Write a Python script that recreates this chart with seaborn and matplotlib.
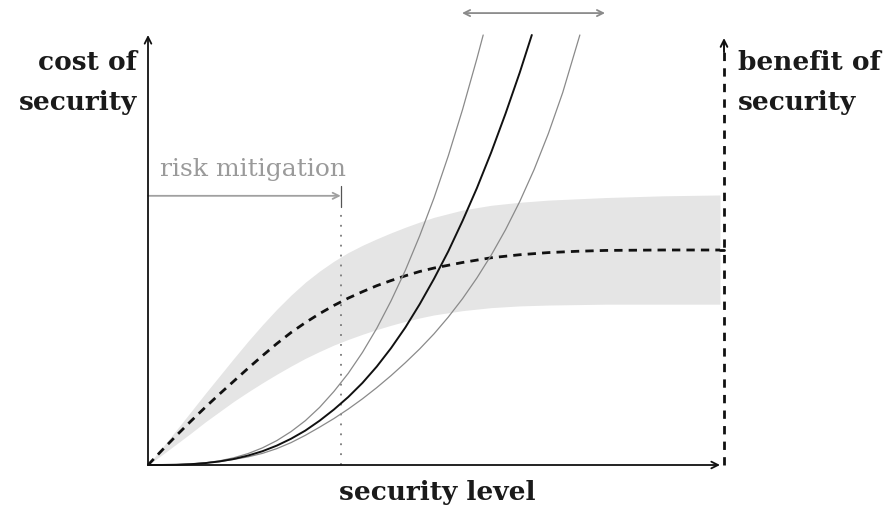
import matplotlib
matplotlib.use("Agg")
import matplotlib.pyplot as plt
import seaborn as sns
import pandas as pd

# --- data (security level on [0, 1], cost / benefit on [0, 1]) ---
benefit_level = [0, 0.025, 0.05, 0.075, 0.1, 0.125, 0.15, 0.175, 0.2, 0.225,
                 0.25, 0.275, 0.3, 0.325, 0.35, 0.375, 0.4, 0.425, 0.45,
                 0.475, 0.5, 0.55, 0.6, 0.65, 0.7, 0.75, 0.8, 0.9, 1.0]
benefit_mean = [0, 0.035, 0.069, 0.102, 0.134, 0.165, 0.195, 0.225, 0.254,
                0.282, 0.308, 0.331, 0.352, 0.371, 0.388, 0.403, 0.417,
                0.429, 0.440, 0.450, 0.458, 0.471, 0.482, 0.489, 0.494,
                0.497, 0.499, 0.500, 0.500]
benefit_high = [0, 0.041, 0.082, 0.124, 0.166, 0.207, 0.248, 0.288, 0.326,
                0.362, 0.395, 0.425, 0.451, 0.474, 0.494, 0.511, 0.526,
                0.540, 0.553, 0.565, 0.576, 0.593, 0.604, 0.611, 0.616,
                0.619, 0.622, 0.626, 0.628]
benefit_low = [0, 0.024, 0.049, 0.074, 0.100, 0.124, 0.148, 0.170, 0.191,
               0.211, 0.230, 0.248, 0.264, 0.279, 0.292, 0.304, 0.315,
               0.325, 0.334, 0.342, 0.349, 0.359, 0.366, 0.370, 0.372,
               0.373, 0.374, 0.374, 0.374]

cost_mid_level = [0, 0.025, 0.05, 0.075, 0.1, 0.125, 0.15, 0.175, 0.2, 0.225,
                  0.25, 0.275, 0.3, 0.325, 0.35, 0.375, 0.4, 0.425, 0.45,
                  0.475, 0.5, 0.525, 0.55, 0.575, 0.6, 0.625, 0.65, 0.671]
cost_mid = [0, 0.0001, 0.0006, 0.0019, 0.0044, 0.0083, 0.014, 0.022, 0.032,
            0.045, 0.061, 0.080, 0.103, 0.129, 0.158, 0.191, 0.229, 0.272,
            0.320, 0.374, 0.433, 0.497, 0.568, 0.644, 0.727, 0.817, 0.913,
            1.0]

cost_steep_level = [0, 0.025, 0.05, 0.075, 0.1, 0.125, 0.15, 0.175, 0.2,
                    0.225, 0.25, 0.275, 0.3, 0.325, 0.35, 0.375, 0.4, 0.425,
                    0.45, 0.475, 0.5, 0.525, 0.55, 0.575, 0.586]
cost_steep = [0, 0.0001, 0.0006, 0.0021, 0.005, 0.0097, 0.0168, 0.0266,
              0.0398, 0.0566, 0.0776, 0.103, 0.134, 0.171, 0.213, 0.262,
              0.318, 0.382, 0.453, 0.533, 0.621, 0.719, 0.827, 0.945, 1.0]

cost_flat_level = [0, 0.025, 0.05, 0.075, 0.1, 0.125, 0.15, 0.175, 0.2,
                   0.225, 0.25, 0.275, 0.3, 0.325, 0.35, 0.375, 0.4, 0.425,
                   0.45, 0.475, 0.5, 0.525, 0.55, 0.575, 0.6, 0.625, 0.65,
                   0.675, 0.7, 0.725, 0.755]
cost_flat = [0, 0.0002, 0.001, 0.0025, 0.005, 0.008, 0.013, 0.019, 0.027,
             0.038, 0.052, 0.069, 0.088, 0.108, 0.130, 0.154, 0.180, 0.208,
             0.238, 0.270, 0.305, 0.344, 0.387, 0.435, 0.488, 0.547, 0.613,
             0.687, 0.771, 0.866, 1.0]

mitigation_level = 0.337
cost_spread = (0.549, 0.799)

sns.set_theme(style="white")
plt.rcParams["axes.unicode_minus"] = False

W, H = 892, 513
fig = plt.figure(figsize=(W / 100, H / 100), dpi=100)
ax = fig.add_axes([148 / W, (H - 465) / H, 572 / W, 430 / H])
ax.set_xlim(0, 1)
ax.set_ylim(0, 1)
ax.set_axis_off()

band_color = "#e5e5e5"
grey = "#8a8a8a"

# uncertainty band around the benefit curve
ax.fill_between(benefit_level, benefit_low, benefit_high, color=band_color,
                lw=0, zorder=1)

benefit_df = pd.DataFrame({"level": benefit_level, "benefit": benefit_mean})
sns.lineplot(data=benefit_df, x="level", y="benefit", ax=ax, color="#111111",
             lw=2.0, zorder=4, clip_on=False)
ax.lines[-1].set_linestyle((0, (3.0, 2.2)))

# cost curves
for lv, cv, col, lw in [(cost_steep_level, cost_steep, grey, 0.9),
                        (cost_flat_level, cost_flat, grey, 0.9),
                        (cost_mid_level, cost_mid, "#111111", 1.4)]:
    df = pd.DataFrame({"level": lv, "cost": cv})
    sns.lineplot(data=df, x="level", y="cost", ax=ax, color=col, lw=lw,
                 zorder=5, clip_on=False)

# axes drawn as arrows
arrow_kw = dict(arrowstyle="->", lw=1.3, color="#111111",
                shrinkA=0, shrinkB=0, mutation_scale=12)
ax.annotate("", xy=(0, 1.0), xytext=(0, 0), arrowprops=arrow_kw,
            annotation_clip=False, zorder=6)
ax.annotate("", xy=(1.0, 0), xytext=(0, 0), arrowprops=arrow_kw,
            annotation_clip=False, zorder=6)

# dashed benefit axis on the right
ax.plot([1.007, 1.007], [0, 0.975], color="#111111", lw=2.0,
        linestyle=(0, (3.0, 2.6)), clip_on=False, zorder=6)
ax.annotate("", xy=(1.007, 0.993), xytext=(1.007, 0.96),
            arrowprops=dict(arrowstyle="->", lw=1.4, color="#111111",
                            shrinkA=0, shrinkB=0, mutation_scale=12),
            annotation_clip=False, zorder=6)
ax.plot([1.0, 1.007], [0.5, 0.5], color="#111111", lw=2.0, clip_on=False)

# risk mitigation marker
ax.plot([mitigation_level, mitigation_level], [0, 0.60], color="#7a7a7a",
        lw=1.3, linestyle=(0, (1, 4.5)), clip_on=False, zorder=3)
ax.plot([mitigation_level, mitigation_level], [0.600, 0.650], color="#555555",
        lw=0.9, clip_on=False, zorder=3)
ax.annotate("", xy=(mitigation_level, 0.626), xytext=(0, 0.626),
            arrowprops=dict(arrowstyle="->", lw=1.3, color="#a0a0a0",
                            shrinkA=0, shrinkB=0, mutation_scale=11),
            annotation_clip=False, zorder=3)
ax.text(0.021, 0.672, "risk mitigation", family="DejaVu Serif", fontsize=18,
        color="#9a9a9a", ha="left", va="baseline")

# spread of the cost curves
ax.annotate("", xy=(cost_spread[1], 1.051), xytext=(cost_spread[0], 1.051),
            arrowprops=dict(arrowstyle="<->", lw=1.3, color="#8a8a8a",
                            shrinkA=0, shrinkB=0, mutation_scale=11),
            annotation_clip=False)


def ftext(x, y, s, **kw):
    fig.text(x / W, 1 - y / H, s, family="DejaVu Serif", weight="bold",
             fontsize=19, color="#1a1a1a", va="baseline", **kw)


ftext(137, 70, "cost of", ha="right")
ftext(137, 110, "security", ha="right")
ftext(738, 70, "benefit of", ha="left")
ftext(738, 110, "security", ha="left")
ftext(437, 500, "security level", ha="center")

fig.savefig("out.png", dpi=100)
